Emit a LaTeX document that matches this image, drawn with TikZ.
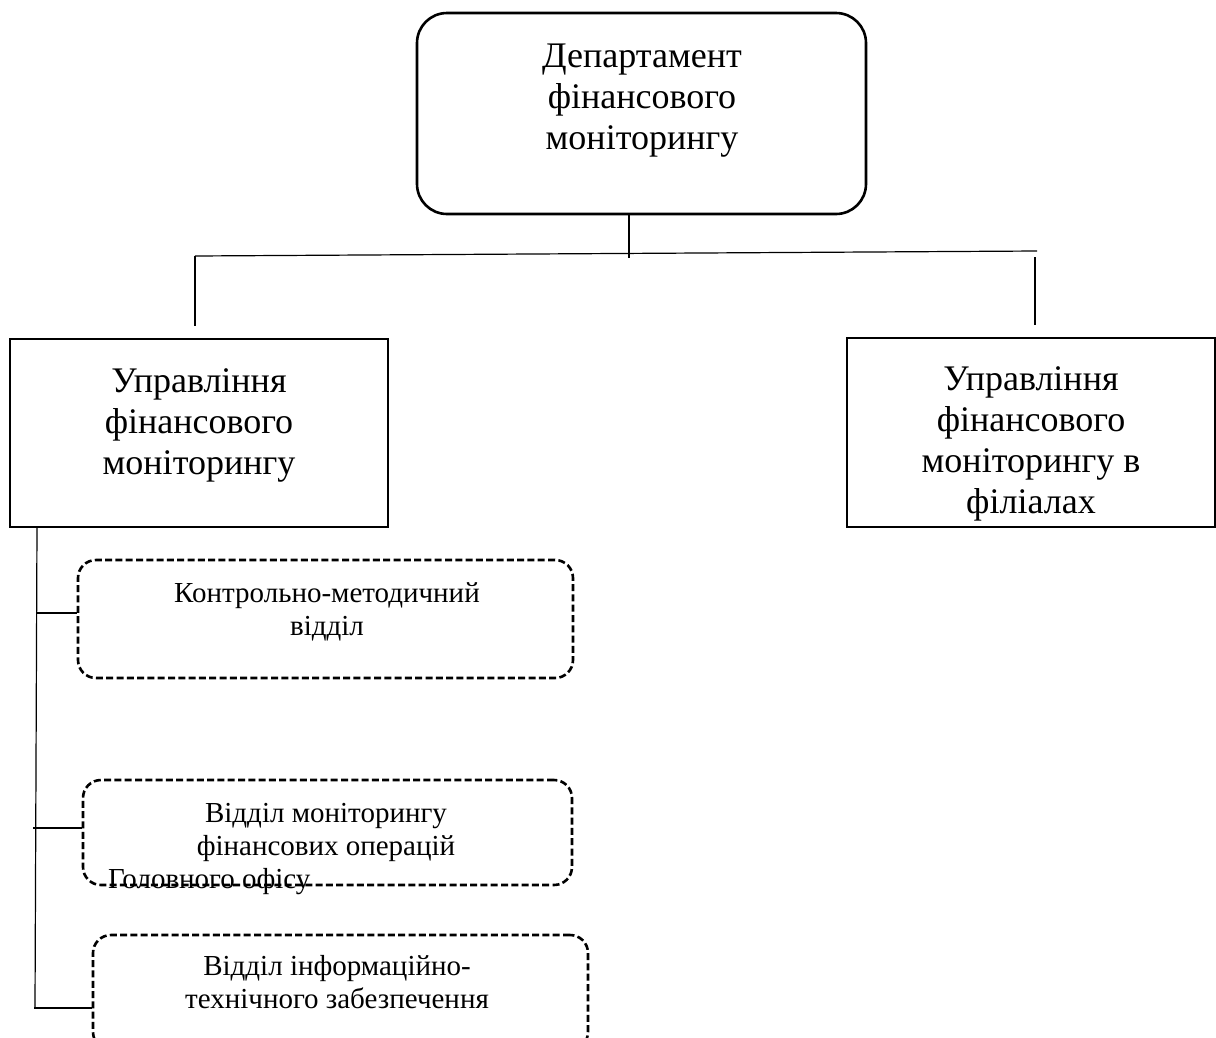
\documentclass[tikz,border=0pt]{standalone}
\usepackage{fontspec}
\setmainfont{Liberation Serif}
\begin{document}
\begin{tikzpicture}[x=1pt,y=-1pt,
  bigbox/.style={draw=black, line width=2.6pt, inner sep=0pt},
  roundbox/.style={bigbox, rounded corners=30pt},
  dashbox/.style={draw=black, line width=2.6pt, dash pattern=on 7pt off 3.3pt, rounded corners=18pt, inner sep=0pt},
  bigtxt/.style={align=center, inner sep=0pt, anchor=north, font=\fontsize{36}{41}\selectfont},
  smalltxt/.style={align=center, inner sep=0pt, anchor=north, font=\fontsize{29}{33}\selectfont},
  link/.style={draw=black, line width=1.2pt}]
\useasboundingbox (0,0) rectangle (1216,1037);
\clip (0,0) rectangle (1216,1037);
\fill[white] (0,0) rectangle (1216,1037);

% boxes
\node[roundbox, minimum width=449pt, minimum height=201pt] (top) at (641.5,113.5) {};
\node[bigbox, minimum width=378pt, minimum height=188pt] (L) at (199,433) {};
\node[bigbox, minimum width=368pt, minimum height=189pt] (R) at (1031,432.5) {};
\node[dashbox, minimum width=495pt, minimum height=118pt] (d1) at (325.5,619) {};
\node[dashbox, minimum width=489pt, minimum height=105pt] (d2) at (327.5,832.5) {};
\node[dashbox, minimum width=495pt, minimum height=115pt] (d3) at (340.5,992.5) {};

% texts
\node[bigtxt] (ttop) at (642,38.3) {\strut Департамент\\фінансового\\моніторингу};
\node[bigtxt] (tL) at (199,363.3) {\strut Управління\\фінансового\\моніторингу};
\node[bigtxt] (tR) at (1031,361.3) {\strut Управління\\фінансового\\моніторингу в\\філіалах};
\node[smalltxt] (t1) at (327,578.9) {\strut Контрольно-методичний\\відділ};
\node[smalltxt] (t2) at (326,798.9) {\strut Відділ моніторингу\\фінансових операцій};
\node[inner sep=0pt, anchor=base west, font=\fontsize{29}{33}\selectfont] (t2b) at (108,888) {Головного офісу};
\node[smalltxt] (t3) at (337,951.9) {\strut Відділ інформаційно-\\технічного забезпечення};

% connectors
\coordinate (hub) at (629,258);
\coordinate (barL) at (195,256);
\coordinate (barR) at (1037,251);
\coordinate (lEnd) at (195,326);
\coordinate (rStart) at (1035,257);
\coordinate (rEnd) at (1035,325);
\coordinate (trTop) at (37,527);
\coordinate (trBot) at (35,1008);
\coordinate (b1) at (37,613);
\coordinate (b2) at (33,828);
\coordinate (b3) at (34,1008);

\draw[link] (top.south -| hub) -- (hub);
\draw[link] (barL) -- (barR);
\draw[link] (barL) -- (lEnd);
\draw[link] (rStart) -- (rEnd);
\draw[link] (trTop) -- (trBot);
\draw[link] (b1) -- (b1 -| d1.west);
\draw[link] (b2) -- (b2 -| d2.west);
\draw[link] (b3) -- (b3 -| d3.west);
\end{tikzpicture}
\end{document}
